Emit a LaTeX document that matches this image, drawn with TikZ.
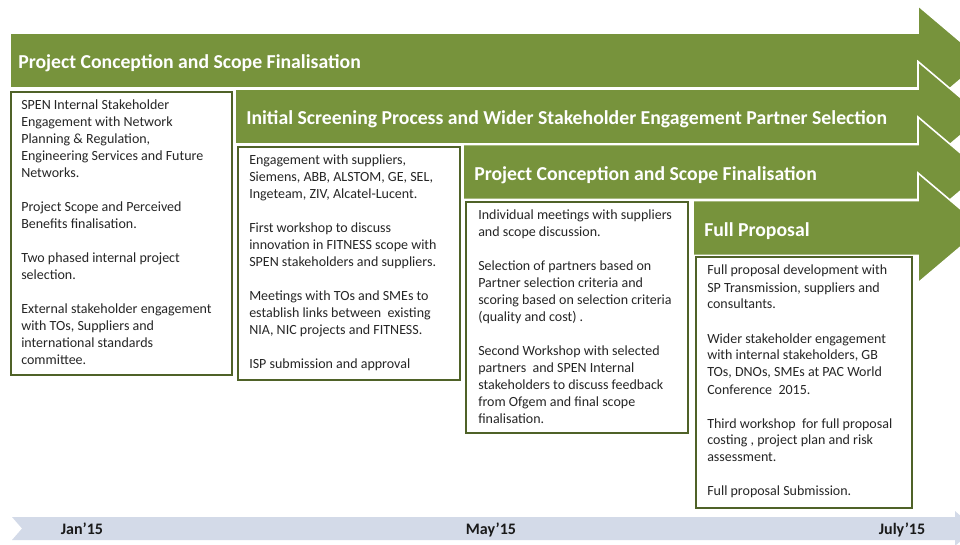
\documentclass[tikz,border=0pt]{standalone}
\usepackage{fontspec}
\setmainfont{Carlito}
\usepackage{xcolor}
\usepackage{tikz}
\usetikzlibrary{shadows}

\definecolor{phasegreen}{HTML}{77933C}
\definecolor{boxgreen}{HTML}{4F6228}
\definecolor{bandblue}{HTML}{D3DAE8}

\newcommand{\pgap}{\\[12.75pt]}

\begin{document}
\begin{tikzpicture}[
    x=0.75pt, y=-0.75pt,
    phase/.style={fill=phasegreen, draw=white, line width=1.2pt, line join=miter},
    phasetitle/.style={anchor=base west, inner sep=0pt, text=white, font=\bfseries\fontsize{14.8}{17}\selectfont},
    box/.style={draw=boxgreen, line width=2.2pt, fill=white, drop shadow={shadow xshift=1pt, shadow yshift=-1pt, opacity=0.25}},
    boxtext/.style={anchor=north west, inner sep=0pt, align=left, text=black!85, font=\fontsize{10.5}{12.75}\selectfont, execute at begin node=\strut},
    band/.style={fill=bandblue},
    month/.style={anchor=base, inner sep=0pt, text=black!90, font=\bfseries\fontsize{12}{14}\selectfont}
]
\clip (0,0) rectangle (960,544);

% Phase 1: Project Conception and Scope Finalisation
\draw[phase] (10,33) -- (918,33) -- (918,5.5) -- (983,60.5) -- (918,115.5) -- (918,88) -- (10,88) -- cycle;
\node[phasetitle] (title1) at (18,68.5) {Project Conception and Scope Finalisation};

% Phase 2: Initial Screening Process
\draw[phase] (235,89) -- (918,89) -- (918,61.5) -- (983,116.5) -- (918,171.5) -- (918,144) -- (235,144) -- cycle;
\node[phasetitle] (title2) at (246,124.5) {Initial Screening Process and Wider Stakeholder Engagement Partner Selection};

% Phase 3: Project Conception and Scope Finalisation
\draw[phase] (463,144.5) -- (918,144.5) -- (918,117) -- (983,172) -- (918,227) -- (918,199.5) -- (463,199.5) -- cycle;
\node[phasetitle] (title3) at (474,180.5) {Project Conception and Scope Finalisation};

% Phase 4: Full Proposal
\draw[phase] (693,200.5) -- (918,200.5) -- (918,173) -- (983,228) -- (918,283) -- (918,255.5) -- (693,255.5) -- cycle;
\node[phasetitle] (title4) at (704,236.5) {Full Proposal};

% Boxes
\draw[box] (11,92) rectangle (232,375);
\node[boxtext] (text1) at (21,100) {SPEN Internal Stakeholder\\
Engagement with Network\\
Planning \& Regulation,\\
Engineering Services and Future\\
Networks.\pgap
Project Scope and Perceived\\
Benefits finalisation.\pgap
Two phased internal project\\
selection.\pgap
External stakeholder engagement\\
with TOs, Suppliers and\\
international standards\\
committee.};

\draw[box] (238,147) rectangle (460,380);
\node[boxtext] (text2) at (249,155) {Engagement with suppliers,\\
Siemens, ABB, ALSTOM, GE, SEL,\\
Ingeteam, ZIV, Alcatel-Lucent.\pgap
First workshop to discuss\\
innovation in FITNESS scope with\\
SPEN stakeholders and suppliers.\pgap
Meetings with TOs and SMEs to\\
establish links between \ existing\\
NIA, NIC projects and FITNESS.\pgap
ISP submission and approval};

\draw[box] (466,202) rectangle (688,433);
\node[boxtext] (text3) at (478,210) {Individual meetings with suppliers\\
and scope discussion.\pgap
Selection of partners based on\\
Partner selection criteria and\\
scoring based on selection criteria\\
(quality and cost) .\pgap
Second Workshop with selected\\
partners \ and SPEN Internal\\
stakeholders to discuss feedback\\
from Ofgem and final scope\\
finalisation.};

\draw[box] (696,257) rectangle (912,508);
\node[boxtext] (text4) at (707,265) {Full proposal development with\\
SP Transmission, suppliers and\\
consultants.\pgap
Wider stakeholder engagement\\
with internal stakeholders, GB\\
TOs, DNOs, SMEs at PAC World\\
Conference \ 2015.\pgap
Third workshop \ for full proposal\\
costing , project plan and risk\\
assessment.\pgap
Full proposal Submission.};

% Timeline
\fill[band] (12,517) -- (955,517) -- (955,511) -- (975,528.5) -- (955,546) -- (955,540) -- (12,540) -- (22,528.5) -- cycle;
\node[month] (jan) at (82,534) {Jan’15};
\node[month] (may) at (491,534) {May’15};
\node[month] (july) at (902,534) {July’15};

\end{tikzpicture}
\end{document}
